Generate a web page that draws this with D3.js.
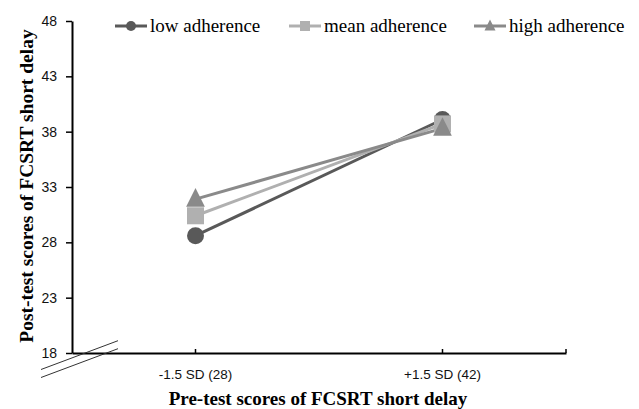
<!DOCTYPE html>
<html>
<head>
<meta charset="utf-8">
<title>FCSRT short delay</title>
<script src="https://cdnjs.cloudflare.com/ajax/libs/d3/7.8.5/d3.min.js"></script>
<style>
  body { margin: 0; background: #fff; }
</style>
</head>
<body>
<script>
// data
var categories = ["-1.5 SD (28)", "+1.5 SD (42)"];
var seriesNames = ["low adherence", "mean adherence", "high adherence"];
var lowValues = [28.6, 39.1];
var meanValues = [30.4, 38.7];
var highValues = [31.9, 38.3];
var yTicks = [18, 23, 28, 33, 38, 43, 48];

var w = 639, h = 409;
// note: "top" is a window property, so use other names
var plotLeft = 72, plotRight = 566, plotTop = 21, plotBottom = 353;

var colors = ["#595959", "#b0b0b0", "#8a8a8a"];
var shapes = ["circle", "square", "triangle"];
var allValues = [lowValues, meanValues, highValues];

var svg = d3.select("body").append("svg")
  .attr("width", w)
  .attr("height", h);

var x = d3.scaleBand().domain(categories).range([plotLeft, plotRight]);
var y = d3.scaleLinear().domain([18, 48]).range([plotBottom, plotTop]);

// y axis
var yAxis = svg.append("g")
  .attr("transform", "translate(" + plotLeft + ",0)")
  .call(d3.axisLeft(y).tickValues(yTicks).tickSize(6).tickPadding(9).tickSizeOuter(0));
yAxis.select(".domain").attr("stroke", "#000").attr("stroke-width", 2);
yAxis.selectAll(".tick line").attr("stroke", "#000").attr("stroke-width", 1.5);
yAxis.selectAll(".tick text")
  .attr("font-family", "'Liberation Sans', Arial, sans-serif")
  .attr("font-size", 14)
  .attr("fill", "#111");

// x axis
var xAxis = svg.append("g")
  .attr("transform", "translate(0," + plotBottom + ")")
  .call(d3.axisBottom(x).tickSize(-4).tickPadding(16).tickSizeOuter(0));
xAxis.select(".domain").attr("stroke", "#000").attr("stroke-width", 2);
xAxis.selectAll(".tick line").attr("stroke", "#000").attr("stroke-width", 1.5);
xAxis.selectAll(".tick text")
  .attr("font-family", "'Liberation Sans', Arial, sans-serif")
  .attr("font-size", 13.5)
  .attr("fill", "#111");
// end tick at right edge
xAxis.append("line")
  .attr("x1", plotRight).attr("x2", plotRight)
  .attr("y1", 0).attr("y2", -4)
  .attr("stroke", "#000").attr("stroke-width", 1.5);

// axis break marks
[0, 8].forEach(function(off) {
  svg.append("line")
    .attr("x1", plotLeft - 31).attr("y1", plotBottom + 16.5 + off)
    .attr("x2", plotLeft + 46).attr("y2", plotBottom - 12.3 + off)
    .attr("stroke", "#333").attr("stroke-width", 1);
});

function drawMarker(g, shape, cx, cy, size, color) {
  if (shape == "circle") {
    g.append("circle").attr("cx", cx).attr("cy", cy).attr("r", size / 2).attr("fill", color);
  } else if (shape == "square") {
    g.append("rect").attr("x", cx - size / 2).attr("y", cy - size / 2)
      .attr("width", size).attr("height", size).attr("fill", color);
  } else {
    var s = size * 1.1;
    g.append("path")
      .attr("d", "M" + cx + "," + (cy - s * 0.6) + "L" + (cx + s / 2) + "," + (cy + s * 0.4) +
        "L" + (cx - s / 2) + "," + (cy + s * 0.4) + "Z")
      .attr("fill", color);
  }
}

var line = d3.line()
  .x(function(d, i) { return x(categories[i]) + x.bandwidth() / 2; })
  .y(function(d) { return y(d); });

// lines first, then markers
allValues.forEach(function(vals, k) {
  svg.append("path")
    .datum(vals)
    .attr("d", line)
    .attr("fill", "none")
    .attr("stroke", colors[k])
    .attr("stroke-width", 3);
});
allValues.forEach(function(vals, k) {
  var g = svg.append("g");
  vals.forEach(function(v, i) {
    drawMarker(g, shapes[k], x(categories[i]) + x.bandwidth() / 2, y(v), 17, colors[k]);
  });
});

// legend
var legendX = [115, 289, 474];
var legendY = 26;
seriesNames.forEach(function(name, k) {
  var g = svg.append("g");
  g.append("line")
    .attr("x1", legendX[k]).attr("x2", legendX[k] + 32)
    .attr("y1", legendY).attr("y2", legendY)
    .attr("stroke", colors[k]).attr("stroke-width", 3);
  drawMarker(g, shapes[k], legendX[k] + 16, legendY, 10, colors[k]);
  g.append("text")
    .attr("x", legendX[k] + 35)
    .attr("y", legendY + 6)
    .attr("font-family", "'Liberation Serif', 'Times New Roman', serif")
    .attr("font-size", 19)
    .attr("fill", "#000")
    .text(name);
});

// axis titles
svg.append("text")
  .attr("transform", "translate(33," + ((plotTop + plotBottom) / 2 - 1) + ") rotate(-90)")
  .attr("text-anchor", "middle")
  .attr("font-family", "'Liberation Serif', 'Times New Roman', serif")
  .attr("font-weight", "bold")
  .attr("font-size", 19.5)
  .text("Post-test scores of FCSRT  short delay");

svg.append("text")
  .attr("x", 318)
  .attr("y", 405)
  .attr("text-anchor", "middle")
  .attr("font-family", "'Liberation Serif', 'Times New Roman', serif")
  .attr("font-weight", "bold")
  .attr("font-size", 19)
  .text("Pre-test scores of FCSRT short delay");
</script>
</body>
</html>
